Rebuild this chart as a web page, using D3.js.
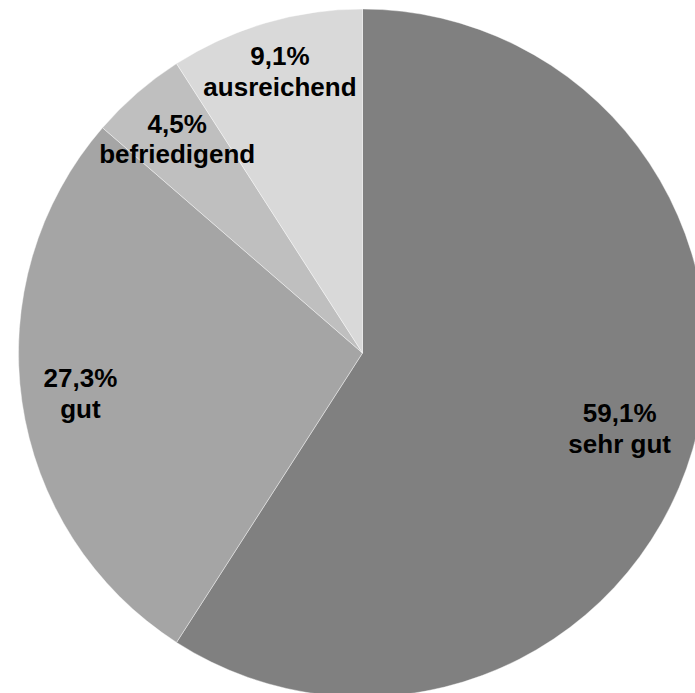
<!DOCTYPE html>
<html>
<head>
<meta charset="utf-8">
<script src="https://cdn.jsdelivr.net/npm/d3@7"></script>
<style>
  body { margin: 0; background: #fff; }
  svg { display: block; }
</style>
</head>
<body>
<svg width="695" height="693"></svg>
<script>
let categories = ["sehr gut", "gut", "befriedigend", "ausreichend"],
    counts = [13, 6, 1, 2],
    percentLabels = ["59,1%", "27,3%", "4,5%", "9,1%"];

let svg = d3.select("svg"),
    cx = 362.5,
    cy = 353,
    radius = 344,
    color = d3.scaleOrdinal()
      .domain(categories)
      .range(["#808080", "#a5a5a5", "#bfbfbf", "#d9d9d9"]);

// label distance from centre, picked per slice like Excel's best fit
let labelRadius = {"sehr gut": 268, "gut": 285, "befriedigend": 283, "ausreichend": 293};

let slices = categories.map(function(c, i) { return {name: c, value: counts[i], pct: percentLabels[i]}; });

let pie = d3.pie().sort(null).value(function(d) { return d.value; });
let arc = d3.arc().innerRadius(0).outerRadius(radius);

let g = svg.append("g").attr("transform", "translate(" + cx + "," + cy + ")");

let arcs = pie(slices);

g.selectAll("path")
  .data(arcs)
  .enter().append("path")
    .attr("d", arc)
    .attr("fill", function(d) { return color(d.data.name); })
    .attr("stroke", "#fff")
    .attr("stroke-opacity", 0.4)
    .attr("stroke-width", 1);

let label = g.selectAll("text")
  .data(arcs)
  .enter().append("text")
    .attr("text-anchor", "middle")
    .attr("font-family", "Liberation Sans, Arial, sans-serif")
    .attr("font-weight", "bold")
    .attr("font-size", 26)
    .attr("fill", "#000")
    .attr("transform", function(d) {
      let r = labelRadius[d.data.name],
          a = (d.startAngle + d.endAngle) / 2;
      return "translate(" + (r * Math.sin(a)) + "," + (-r * Math.cos(a)) + ")";
    });

label.append("tspan").attr("x", 0).attr("y", -6.5).text(function(d) { return d.data.pct; });
label.append("tspan").attr("x", 0).attr("y", 24).text(function(d) { return d.data.name; });
</script>
</body>
</html>
